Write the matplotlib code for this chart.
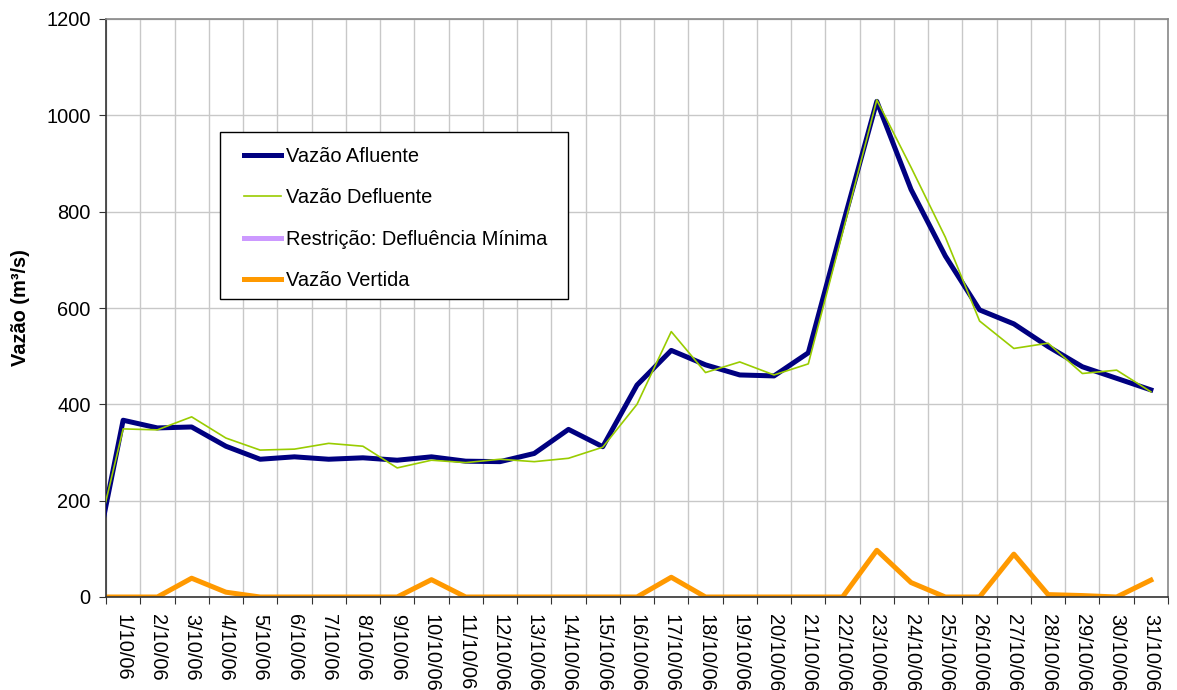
import matplotlib
matplotlib.use("Agg")
import matplotlib.pyplot as plt
from matplotlib.patches import Rectangle
import numpy as np

plt.rcParams['font.family'] = ['Liberation Sans', 'DejaVu Sans']

# categories (first entry is the previous day, clipped at the left edge)
dias = ["30/9/06"] + [f"{d}/10/06" for d in range(1, 32)]

afluente = [13, 367, 351, 353, 313, 286, 291, 286, 289, 284, 291, 282, 281, 298, 348,
            312, 440, 512, 482, 461, 459, 507, 771, 1029, 846, 708, 596, 567, 520,
            478, 454, 430]
defluente = [51, 349, 347, 374, 330, 305, 307, 319, 313, 268, 284, 279, 286, 281, 288,
             311, 400, 551, 466, 488, 461, 484, 756, 1032, 892, 747, 573, 516, 527,
             464, 471, 426]
restricao = []  # no visible data, legend only
vertida = [0, 0, 0, 39, 10, 0, 0, 0, 0, 0, 36, 0, 0, 0, 0,
           0, 0, 41, 0, 0, 0, 0, 0, 97, 30, 0, 0, 89, 5,
           3, 0, 35]

yticks = [0, 200, 400, 600, 800, 1000, 1200]

x = np.arange(-1, len(dias) - 1)
FS = 14.4

W, H = 1177, 690
AX_L, AX_R, AX_T, AX_B = 106, 1168, 19, 597
fig = plt.figure(figsize=(W/100, H/100), dpi=100)
ax = fig.add_axes([AX_L/W, 1 - AX_B/H, (AX_R - AX_L)/W, (AX_B - AX_T)/H])

def axfrac(px, py):
    return ((px - AX_L)/(AX_R - AX_L), (AX_B - py)/(AX_B - AX_T))

ax.plot(x, afluente, color='#000080', lw=3.6, label='Vazão Afluente', zorder=3)
ax.plot(x, defluente, color='#99CC00', lw=1.2, label='Vazão Defluente', zorder=3.5)
ax.plot(np.arange(len(restricao)), restricao, color='#CC99FF', lw=3.6,
        label='Restrição: Defluência Mínima', zorder=2.5)
ax.plot(x, vertida, color='#FF9900', lw=3.6, label='Vazão Vertida', zorder=2.5)

n = len(dias) - 1
ax.set_xlim(-0.5, n - 0.5)
ax.set_ylim(0, 1200)
ax.set_yticks(yticks)
ax.set_yticklabels([str(v) for v in yticks], fontsize=FS)

ax.set_xticks(np.arange(-0.5, n, 1.0))
ax.set_xticklabels([])
ax.set_xticks(np.arange(0, n), minor=True)
ax.set_xticklabels(dias[1:], minor=True, rotation=270, fontsize=FS, va='top', ha='center')
ax.tick_params(axis='x', which='minor', length=0, pad=12)
ax.tick_params(axis='x', which='major', length=5, direction='out', color='#333333')
ax.tick_params(axis='y', length=5, direction='out', color='#333333', pad=6)

ax.grid(True, which='major', color='#C8C8C8', lw=1.0)
ax.set_axisbelow(True)

for s in ['top', 'right']:
    ax.spines[s].set_color('#888888')
    ax.spines[s].set_linewidth(1.2)
for s in ['left', 'bottom']:
    ax.spines[s].set_color('#333333')
    ax.spines[s].set_linewidth(1.2)

ax.set_ylabel('Vazão (m³/s)', fontsize=FS, fontweight='bold', labelpad=12)

# legend frame
x0, y0 = axfrac(220, 299)
x1, y1 = axfrac(568, 132)
ax.add_patch(Rectangle((x0, y0), x1 - x0, y1 - y0, transform=ax.transAxes,
                       facecolor='white', edgecolor='black', lw=1.0, zorder=4.5))

leg = ax.legend(loc='upper left', bbox_to_anchor=axfrac(244, 147),
                fontsize=FS, frameon=False,
                labelspacing=1.12, handlelength=1.85, handletextpad=0.25,
                borderpad=0, borderaxespad=0)
leg.set_zorder(5)

fig.savefig('out.png', dpi=100)
